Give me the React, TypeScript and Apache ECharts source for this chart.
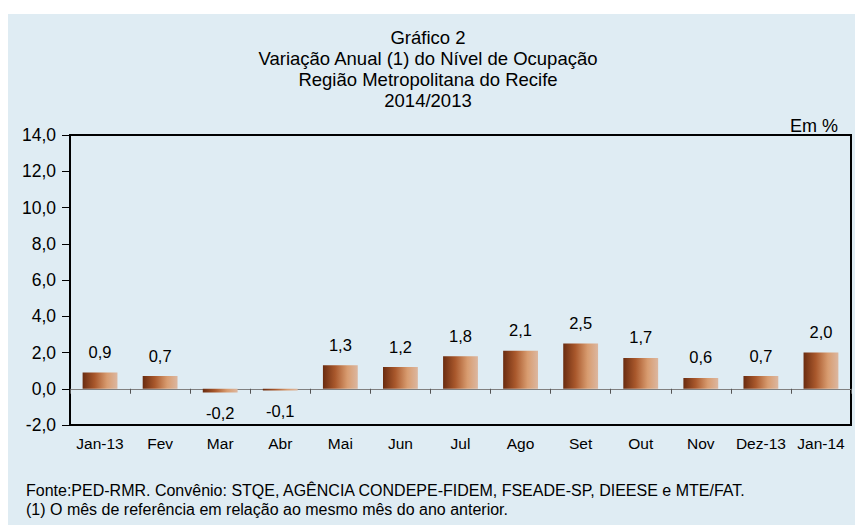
import React, { useEffect, useRef } from "react";
import * as echarts from "echarts";

const categories = ["Jan-13", "Fev", "Mar", "Abr", "Mai", "Jun", "Jul", "Ago", "Set", "Out", "Nov", "Dez-13", "Jan-14"];
const values = [0.9, 0.7, -0.2, -0.1, 1.3, 1.2, 1.8, 2.1, 2.5, 1.7, 0.6, 0.7, 2.0];
const titleLines = ["Gráfico 2", "Variação Anual (1) do Nível de Ocupação", "Região Metropolitana do Recife", "2014/2013"];
const footerLines = [
  "Fonte:PED-RMR. Convênio: STQE, AGÊNCIA CONDEPE-FIDEM, FSEADE-SP, DIEESE e MTE/FAT.",
  "(1) O mês de referência em relação ao mesmo mês do ano anterior.",
];

const FONT = "Liberation Sans, Arial, sans-serif";

export default function App() {
  const ref = useRef<HTMLDivElement>(null);
  useEffect(() => {
    document.body.style.margin = "0";
    const chart = echarts.init(ref.current!, null, { renderer: "svg" });
    const fmt = (v: number) => v.toFixed(1).replace(".", ",");
    const barColor = new echarts.graphic.LinearGradient(0, 0, 1, 0, [
      { offset: 0, color: "#6a2c10" },
      { offset: 0.35, color: "#a9582c" },
      { offset: 0.7, color: "#d89c70" },
      { offset: 1, color: "#dcb7a0" },
    ]);
    chart.setOption({
      animation: false,
      backgroundColor: "#ffffff",
      textStyle: { fontFamily: FONT },
      graphic: [
        { type: "rect", z: -10, shape: { x: 8, y: 14, width: 847, height: 511 }, style: { fill: "#dfecf3" }, silent: true },
        ...titleLines.map((t, i) => ({
          type: "text",
          x: 428,
          y: 37 + i * 21,
          style: { text: t, fill: "#000", font: `18.5px ${FONT}`, textAlign: "center", textVerticalAlign: "middle" },
        })),
        {
          type: "text",
          x: 838,
          y: 126,
          style: { text: "Em %", fill: "#000", font: `18px ${FONT}`, textAlign: "right", textVerticalAlign: "middle" },
        },
        ...footerLines.map((t, i) => ({
          type: "text",
          x: 26,
          y: 490 + i * 19,
          style: { text: t, fill: "#000", font: `16px ${FONT}`, textAlign: "left", textVerticalAlign: "middle" },
        })),
      ],
      grid: {
        left: 70,
        top: 135,
        width: 781,
        height: 290,
        show: true,
        borderColor: "#000",
        borderWidth: 2,
        backgroundColor: "transparent",
      },
      xAxis: [
        {
          type: "category",
          data: categories,
          axisLine: { onZero: true, lineStyle: { color: "#808080", width: 1 } },
          axisTick: { show: true, length: 5, lineStyle: { color: "#555" } },
          axisLabel: { show: false },
        },
        {
          type: "category",
          data: categories,
          position: "bottom",
          axisLine: { show: false, onZero: false },
          axisTick: { show: false },
          axisLabel: { show: true, color: "#000", fontSize: 15.5, fontFamily: FONT, margin: 10, interval: 0 },
        },
      ],
      yAxis: {
        type: "value",
        min: -2,
        max: 14,
        interval: 2,
        axisLine: { show: true, lineStyle: { color: "#000", width: 2 } },
        axisTick: { show: true, length: 8, lineStyle: { color: "#000" } },
        axisLabel: { color: "#000", fontSize: 17.5, fontFamily: FONT, margin: 14, formatter: (v: number) => fmt(v) },
        splitLine: { show: false },
      },
      series: [
        {
          type: "bar",
          data: values.map((v) => ({
            value: v,
            label: { position: v < 0 ? "bottom" : "top" },
          })),
          barWidth: "58%",
          itemStyle: { color: barColor },
          label: {
            show: true,
            distance: 12,
            color: "#000",
            fontSize: 16.5,
            fontFamily: FONT,
            formatter: (p: any) => fmt(p.value),
          },
        },
      ],
    });
    return () => chart.dispose();
  }, []);
  return <div ref={ref} style={{ width: 855, height: 525 }} />;
}
